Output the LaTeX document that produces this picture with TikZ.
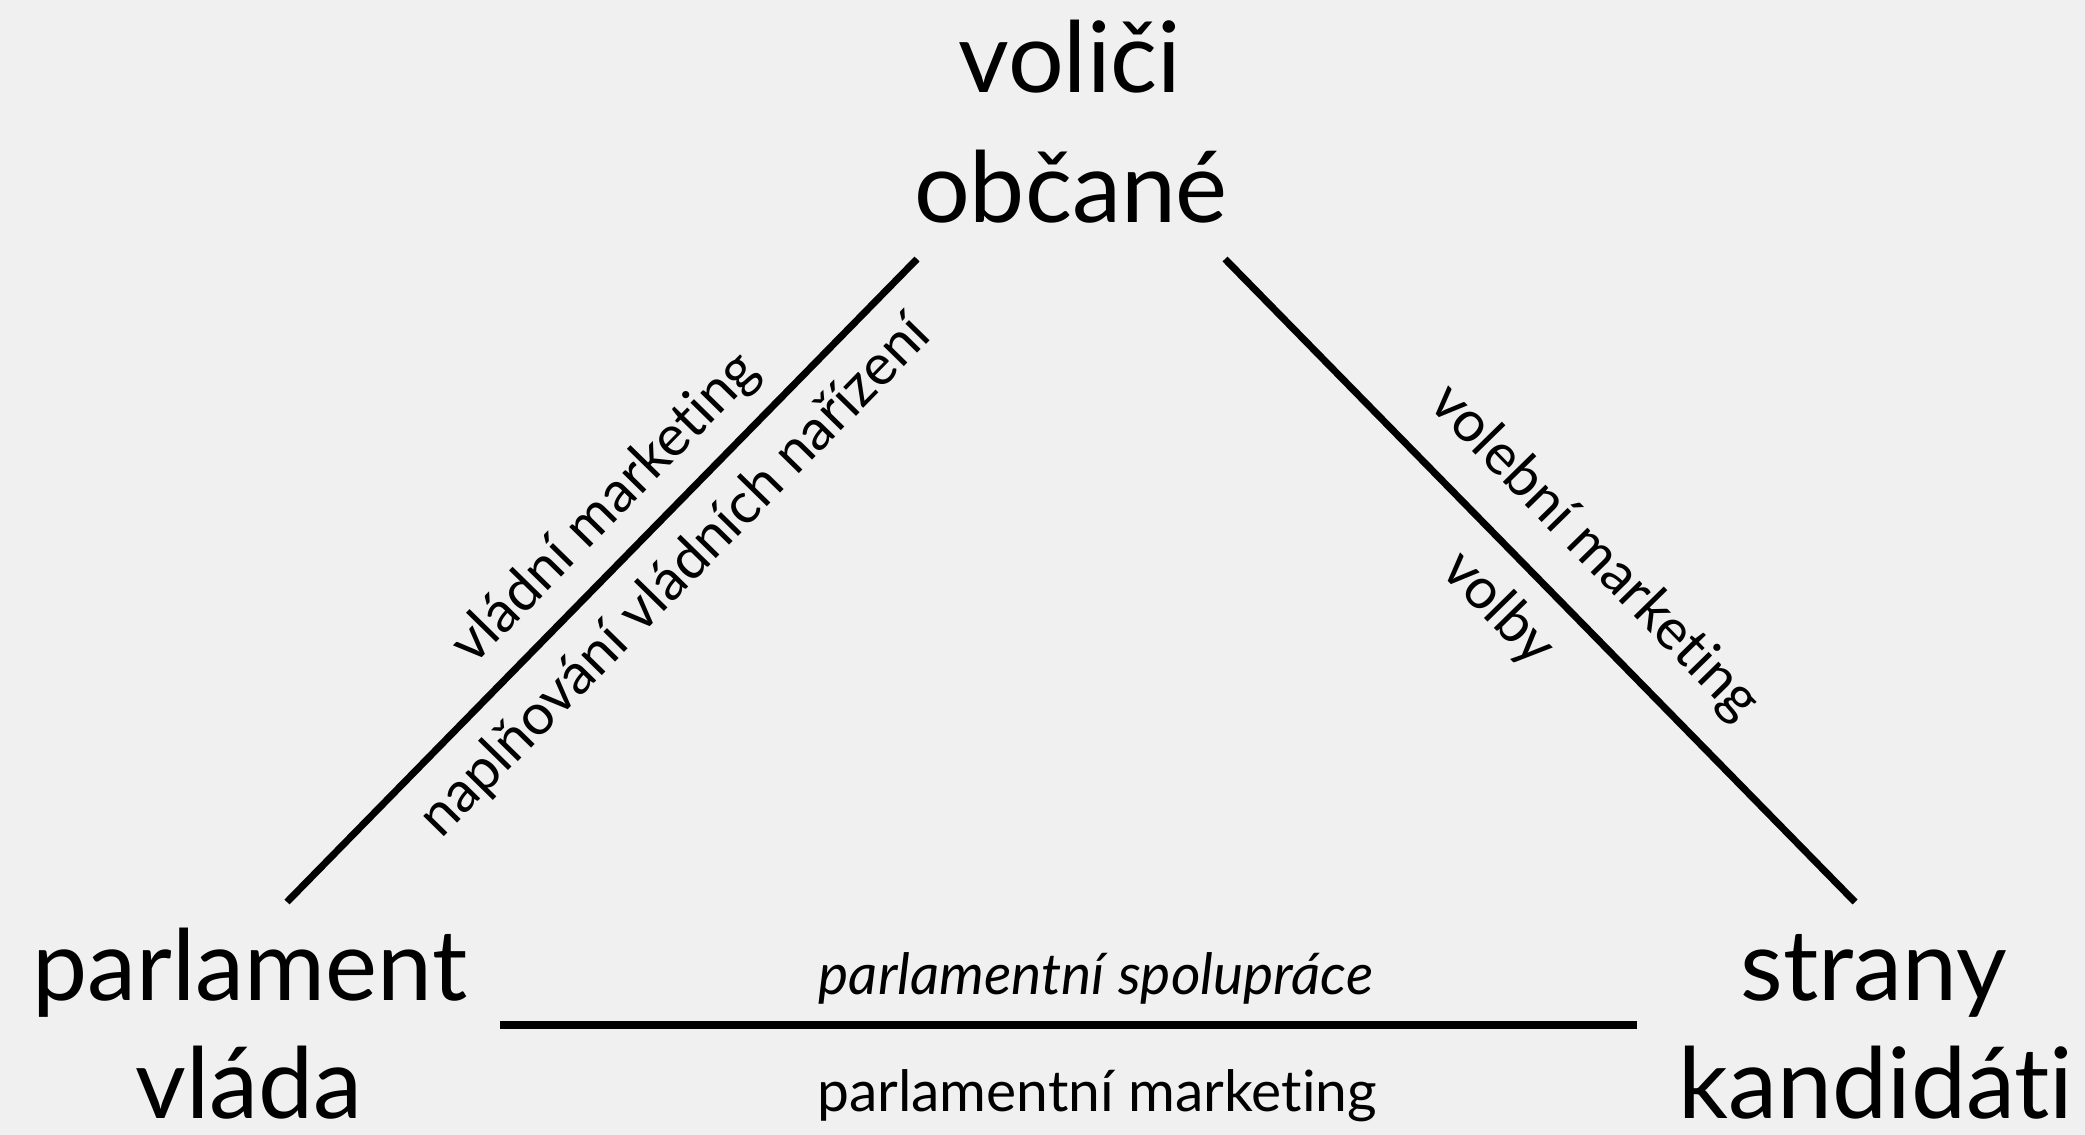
\documentclass[tikz,border=0pt]{standalone}
\usepackage{fontspec}
\setmainfont{Lato}[Ligatures=NoCommon]
\definecolor{paper}{HTML}{F0F0F0}
\begin{document}
\begin{tikzpicture}[
  big/.style={font=\fontsize{28}{34}\selectfont,inner sep=0pt,anchor=base},
  small/.style={font=\fontsize{16.2}{20}\selectfont,inner sep=0pt},
  tie/.style={line width=2pt}]
\fill[paper] (0,0) rectangle (20.85,-11.35);
\useasboundingbox (0,0) rectangle (20.85,-11.35);
% corners
\node[big] (voters) at (10.70,-0.93) {voliči};
\node[big] (citizens) at (10.71,-2.23) {občané};
\node[big] (parl) at (2.50,-10.00) {parlament};
\node[big] (gov) at (2.49,-11.18) {vláda};
\node[big] (parties) at (18.74,-10.00) {strany};
\node[big] (cand) at (18.76,-11.18) {kandidáti};
% line ends
\coordinate (lb) at (2.87,-9.02);
\coordinate (lt) at (9.17,-2.59);
\coordinate (rt) at (12.25,-2.59);
\coordinate (rb) at (18.55,-9.02);
\coordinate (bl) at (5.00,-10.25);
\coordinate (br) at (16.37,-10.25);
\draw[tie] (lb) -- (lt)
  node[small,pos=.56,sloped,above=5pt] (govmkt) {vládní marketing}
  node[small,pos=.56,sloped,below=6pt] (rules) {naplňování vládních nařízení};
\draw[tie] (rt) -- (rb)
  node[small,pos=.52,sloped,above=8pt] (elmkt) {volební marketing}
  node[small,pos=.49,sloped,below=6pt] (vote) {volby};
\draw[tie] (bl) -- (br);
\node[small,anchor=base] (coop) at (10.96,-9.94) {\itshape parlamentní spolupráce};
\node[small,anchor=base] (parmkt) at (10.97,-11.11) {parlamentní marketing};
\end{tikzpicture}
\end{document}
